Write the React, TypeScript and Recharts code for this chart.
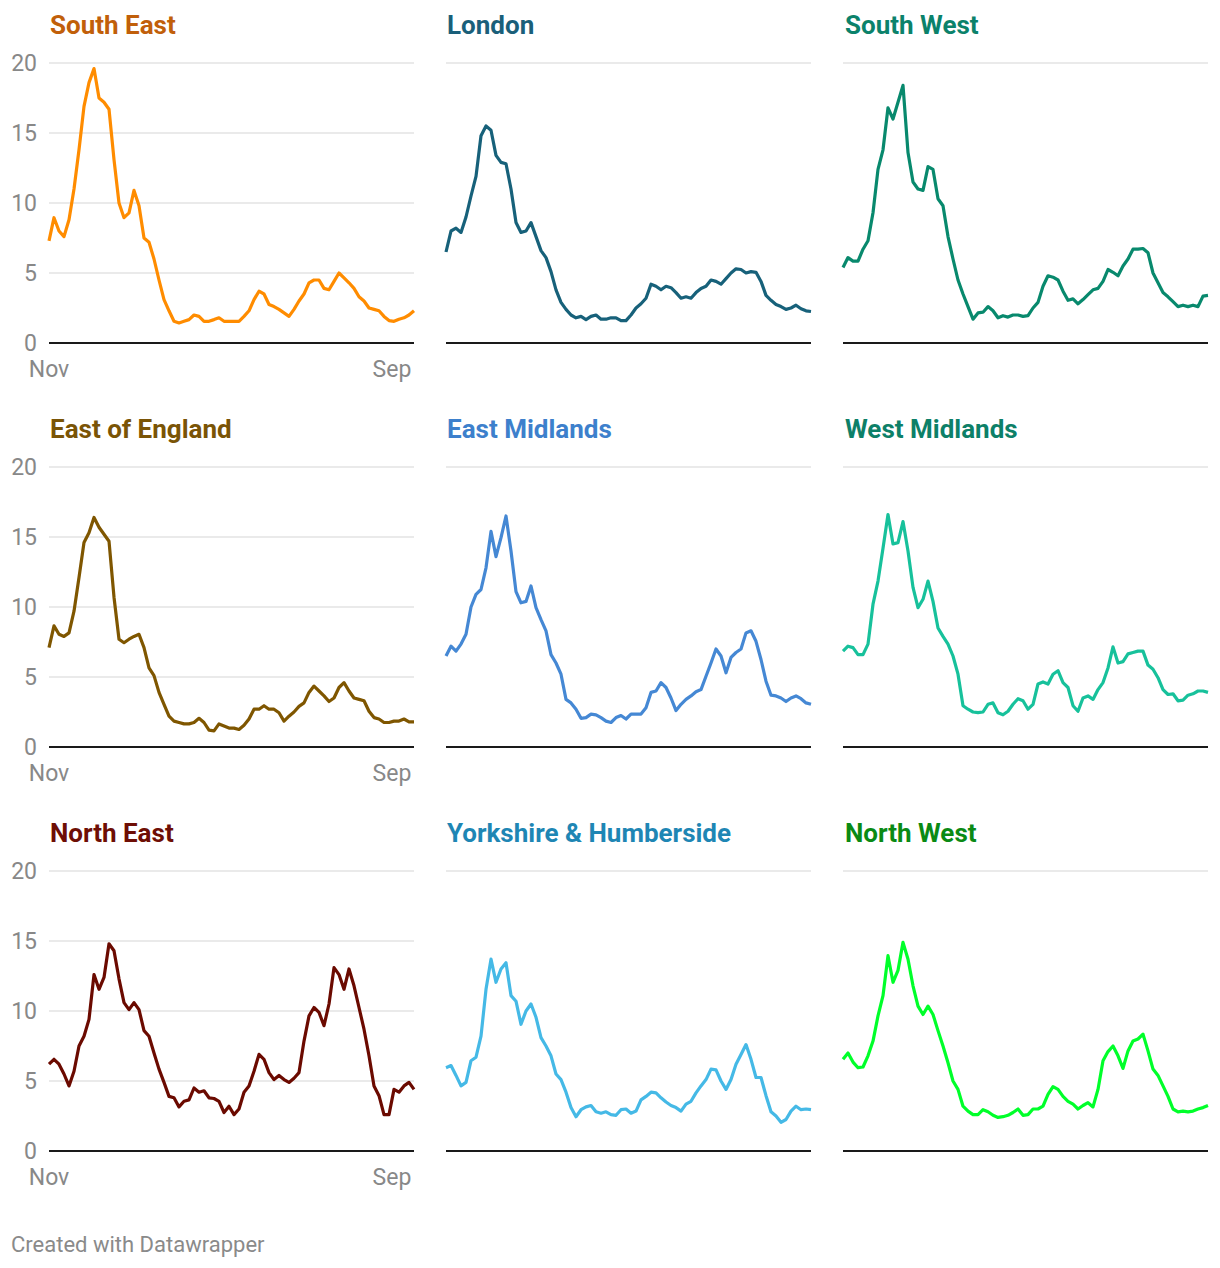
import React from 'react';
import { LineChart, Line, XAxis, YAxis, CartesianGrid } from 'recharts';

// Sample positions along the time axis (Nov .. mid-Sep), equally spaced
const sampleIndex: number[] = Array.from({ length: 74 }, (_, i) => i);
const xTickPositions = [0, 68.6];
const xTickLabels = ['Nov', 'Sep'];
const yTicks = [0, 5, 10, 15, 20];

const southEast = [7.3, 8.95, 8.0, 7.6, 8.8, 11, 13.8, 16.9, 18.6, 19.6, 17.5, 17.2, 16.7, 13.1, 10, 8.95, 9.3, 10.9, 9.8, 7.5, 7.2, 6, 4.5, 3.1, 2.3, 1.55, 1.43, 1.55, 1.67, 2.0, 1.9, 1.55, 1.55, 1.67, 1.8, 1.55, 1.55, 1.55, 1.55, 1.9, 2.3, 3.1, 3.7, 3.5, 2.75, 2.6, 2.4, 2.15, 1.9, 2.4, 3.0, 3.5, 4.3, 4.5, 4.5, 3.9, 3.8, 4.4, 5.0, 4.65, 4.3, 3.9, 3.3, 3.0, 2.5, 2.4, 2.3, 1.9, 1.6, 1.55, 1.7, 1.8, 2.0, 2.3];
const london = [6.5, 8.0, 8.2, 7.9, 9.0, 10.5, 11.9, 14.8, 15.5, 15.2, 13.4, 12.9, 12.8, 11, 8.6, 7.9, 8.0, 8.6, 7.6, 6.6, 6.1, 5.1, 3.8, 2.9, 2.4, 2.0, 1.8, 1.9, 1.67, 1.9, 2.0, 1.7, 1.7, 1.8, 1.8, 1.6, 1.6, 2.0, 2.5, 2.8, 3.2, 4.2, 4.05, 3.8, 4.05, 3.95, 3.6, 3.2, 3.3, 3.2, 3.6, 3.9, 4.05, 4.5, 4.4, 4.2, 4.6, 5.0, 5.3, 5.25, 5.0, 5.1, 5.05, 4.4, 3.4, 3.05, 2.75, 2.6, 2.4, 2.5, 2.7, 2.45, 2.3, 2.25];
const southWest = [5.4, 6.1, 5.85, 5.85, 6.7, 7.3, 9.3, 12.4, 13.8, 16.8, 16.0, 17.2, 18.4, 13.6, 11.5, 11.0, 10.9, 12.6, 12.4, 10.3, 9.8, 7.6, 6.0, 4.5, 3.5, 2.6, 1.7, 2.15, 2.2, 2.6, 2.3, 1.8, 1.95, 1.85, 2.0, 2.0, 1.9, 1.95, 2.5, 2.9, 4.05, 4.8, 4.7, 4.5, 3.7, 3.05, 3.15, 2.8, 3.1, 3.45, 3.8, 3.9, 4.4, 5.25, 5.05, 4.8, 5.5, 6.0, 6.7, 6.7, 6.75, 6.45, 5.0, 4.3, 3.6, 3.3, 2.95, 2.6, 2.7, 2.6, 2.7, 2.6, 3.35, 3.4];
const eastOfEngland = [7.1, 8.65, 8.05, 7.9, 8.15, 9.7, 12.1, 14.6, 15.3, 16.4, 15.7, 15.2, 14.7, 10.7, 7.7, 7.45, 7.7, 7.9, 8.05, 7.1, 5.65, 5.1, 3.9, 3.05, 2.2, 1.85, 1.75, 1.65, 1.65, 1.75, 2.05, 1.75, 1.2, 1.15, 1.65, 1.5, 1.35, 1.35, 1.25, 1.55, 2.0, 2.7, 2.7, 2.95, 2.7, 2.7, 2.45, 1.85, 2.2, 2.5, 2.9, 3.15, 3.9, 4.35, 4.0, 3.65, 3.25, 3.5, 4.25, 4.6, 4.0, 3.5, 3.4, 3.3, 2.55, 2.1, 2.0, 1.75, 1.75, 1.85, 1.85, 2.0, 1.8, 1.8];
const eastMidlands = [6.5, 7.2, 6.85, 7.35, 8.05, 10.0, 10.9, 11.25, 12.8, 15.4, 13.6, 14.95, 16.5, 14.0, 11.1, 10.3, 10.4, 11.5, 9.95, 9.1, 8.3, 6.6, 6.0, 5.2, 3.4, 3.15, 2.7, 2.05, 2.1, 2.35, 2.3, 2.1, 1.85, 1.75, 2.1, 2.25, 2.0, 2.35, 2.35, 2.35, 2.8, 3.9, 4.0, 4.6, 4.25, 3.5, 2.6, 3.05, 3.4, 3.65, 3.95, 4.1, 5.05, 6.0, 7.0, 6.5, 5.3, 6.4, 6.75, 7.0, 8.15, 8.3, 7.55, 6.25, 4.7, 3.7, 3.65, 3.5, 3.25, 3.5, 3.65, 3.45, 3.15, 3.05];
const westMidlands = [6.85, 7.2, 7.1, 6.6, 6.6, 7.35, 10.2, 11.85, 14.2, 16.6, 14.5, 14.6, 16.1, 14.0, 11.4, 9.95, 10.55, 11.85, 10.4, 8.5, 7.9, 7.35, 6.5, 5.2, 2.95, 2.7, 2.5, 2.45, 2.5, 3.05, 3.15, 2.45, 2.3, 2.55, 3.05, 3.45, 3.3, 2.7, 3.05, 4.5, 4.65, 4.5, 5.2, 5.45, 4.6, 4.25, 2.95, 2.55, 3.5, 3.65, 3.4, 4.1, 4.6, 5.65, 7.15, 6.0, 6.1, 6.65, 6.75, 6.85, 6.85, 5.85, 5.55, 4.95, 4.1, 3.75, 3.8, 3.3, 3.35, 3.7, 3.8, 4.0, 4.0, 3.9];
const northEast = [6.2, 6.55, 6.2, 5.5, 4.65, 5.7, 7.5, 8.2, 9.4, 12.6, 11.55, 12.4, 14.8, 14.3, 12.3, 10.6, 10.1, 10.6, 10.1, 8.6, 8.2, 7.0, 5.85, 4.9, 3.9, 3.8, 3.15, 3.55, 3.65, 4.5, 4.2, 4.3, 3.8, 3.75, 3.55, 2.75, 3.2, 2.6, 3.0, 4.2, 4.65, 5.7, 6.9, 6.55, 5.6, 5.1, 5.4, 5.1, 4.9, 5.2, 5.6, 7.85, 9.65, 10.25, 9.9, 8.95, 10.5, 13.1, 12.6, 11.55, 13.0, 11.8, 10.25, 8.7, 6.8, 4.65, 3.95, 2.6, 2.6, 4.4, 4.2, 4.65, 4.9, 4.4];
const yorkshire = [5.95, 6.1, 5.4, 4.65, 4.9, 6.45, 6.7, 8.2, 11.55, 13.7, 12.05, 13.0, 13.45, 11.1, 10.7, 9.05, 10.0, 10.5, 9.55, 8.1, 7.5, 6.8, 5.5, 5.1, 4.2, 3.1, 2.45, 2.95, 3.15, 3.25, 2.8, 2.7, 2.8, 2.6, 2.55, 2.95, 3.0, 2.7, 2.85, 3.65, 3.9, 4.2, 4.15, 3.8, 3.5, 3.25, 3.1, 2.85, 3.35, 3.55, 4.15, 4.65, 5.1, 5.85, 5.8, 5.0, 4.4, 5.1, 6.2, 6.9, 7.6, 6.55, 5.25, 5.25, 3.95, 2.8, 2.5, 2.05, 2.25, 2.85, 3.2, 2.95, 3.0, 2.95];
const northWest = [6.55, 7.0, 6.35, 5.95, 6.0, 6.8, 7.85, 9.65, 11.1, 13.95, 12.05, 12.9, 14.9, 13.7, 11.8, 10.35, 9.75, 10.35, 9.75, 8.6, 7.5, 6.3, 5.0, 4.4, 3.2, 2.85, 2.6, 2.6, 2.95, 2.8, 2.55, 2.4, 2.45, 2.55, 2.75, 3.0, 2.55, 2.6, 3.0, 3.0, 3.2, 4.05, 4.6, 4.4, 3.9, 3.55, 3.35, 3.0, 3.25, 3.45, 3.15, 4.4, 6.45, 7.1, 7.5, 6.8, 5.9, 7.15, 7.85, 8.0, 8.35, 7.15, 5.85, 5.4, 4.65, 3.9, 3.0, 2.8, 2.85, 2.8, 2.85, 3.0, 3.1, 3.25];

const regionNames = ['South East', 'London', 'South West', 'East of England', 'East Midlands', 'West Midlands', 'North East', 'Yorkshire & Humberside', 'North West'];
const regionValues = [southEast, london, southWest, eastOfEngland, eastMidlands, westMidlands, northEast, yorkshire, northWest];
const lineColors = ['#ff8c00', '#17617a', '#08896d', '#7f5600', '#4588d4', '#17c19b', '#6b0a00', '#45b9e6', '#00ff2a'];
const titleColors = ['#c15f0a', '#1a5f7a', '#0b826b', '#7a5406', '#3d80cc', '#0d8068', '#6e0e05', '#1e86b4', '#0a8a14'];

const FONT = 'Roboto, "Noto Sans", sans-serif';
const colLeft = [0, 397, 794];
const rowTop = [40, 444, 848];
const titleLeft = [50, 447, 845];
const titleTop = [12, 416, 820];

function Panel({ idx }: { idx: number }) {
  const col = idx % 3;
  const row = Math.floor(idx / 3);
  const data = sampleIndex.map((x, i) => ({ x, v: regionValues[idx][i] }));
  const showLabels = col === 0;
  const tickStyle = { fill: '#888', fontSize: 23, fontFamily: FONT };
  return (
    <>
      <div
        style={{
          position: 'absolute',
          left: titleLeft[col],
          top: titleTop[row],
          fontFamily: FONT,
          fontWeight: 700,
          fontSize: 26,
          lineHeight: 1,
          color: titleColors[idx],
          whiteSpace: 'nowrap',
        }}
      >
        {regionNames[idx]}
      </div>
      <div style={{ position: 'absolute', left: colLeft[col], top: rowTop[row] }}>
        <LineChart width={420} height={343} data={data} margin={{ top: 23, right: 6, bottom: 0, left: 0 }}>
          <CartesianGrid vertical={false} stroke="#e3e3e3" strokeWidth={1.5} />
          <XAxis
            dataKey="x"
            type="number"
            domain={[0, 73]}
            ticks={xTickPositions}
            interval={0}
            tickFormatter={(v: number) => xTickLabels[xTickPositions.indexOf(v)] ?? ''}
            axisLine={{ stroke: '#1a1a1a', strokeWidth: 2 }}
            tickLine={false}
            tickSize={0}
            tickMargin={18}
            height={40}
            tick={showLabels ? tickStyle : false}
          />
          <YAxis
            domain={[0, 20]}
            ticks={yTicks}
            width={49}
            axisLine={false}
            tickLine={false}
            tickSize={0}
            tickMargin={12}
            tick={showLabels ? tickStyle : false}
          />
          <Line
            type="linear"
            dataKey="v"
            stroke={lineColors[idx]}
            strokeWidth={3.2}
            strokeLinejoin="round"
            dot={false}
            isAnimationActive={false}
          />
        </LineChart>
      </div>
    </>
  );
}

export default function App() {
  return (
    <div style={{ position: 'absolute', left: 0, top: 0, width: 1220, height: 1268, background: '#fff', overflow: 'hidden' }}>
      {regionNames.map((_, i) => (
        <Panel key={i} idx={i} />
      ))}
      <div
        style={{
          position: 'absolute',
          left: 11,
          top: 1234,
          fontFamily: FONT,
          fontSize: 22,
          lineHeight: 1,
          color: '#8a8a8a',
          whiteSpace: 'nowrap',
        }}
      >
        Created with Datawrapper
      </div>
    </div>
  );
}
